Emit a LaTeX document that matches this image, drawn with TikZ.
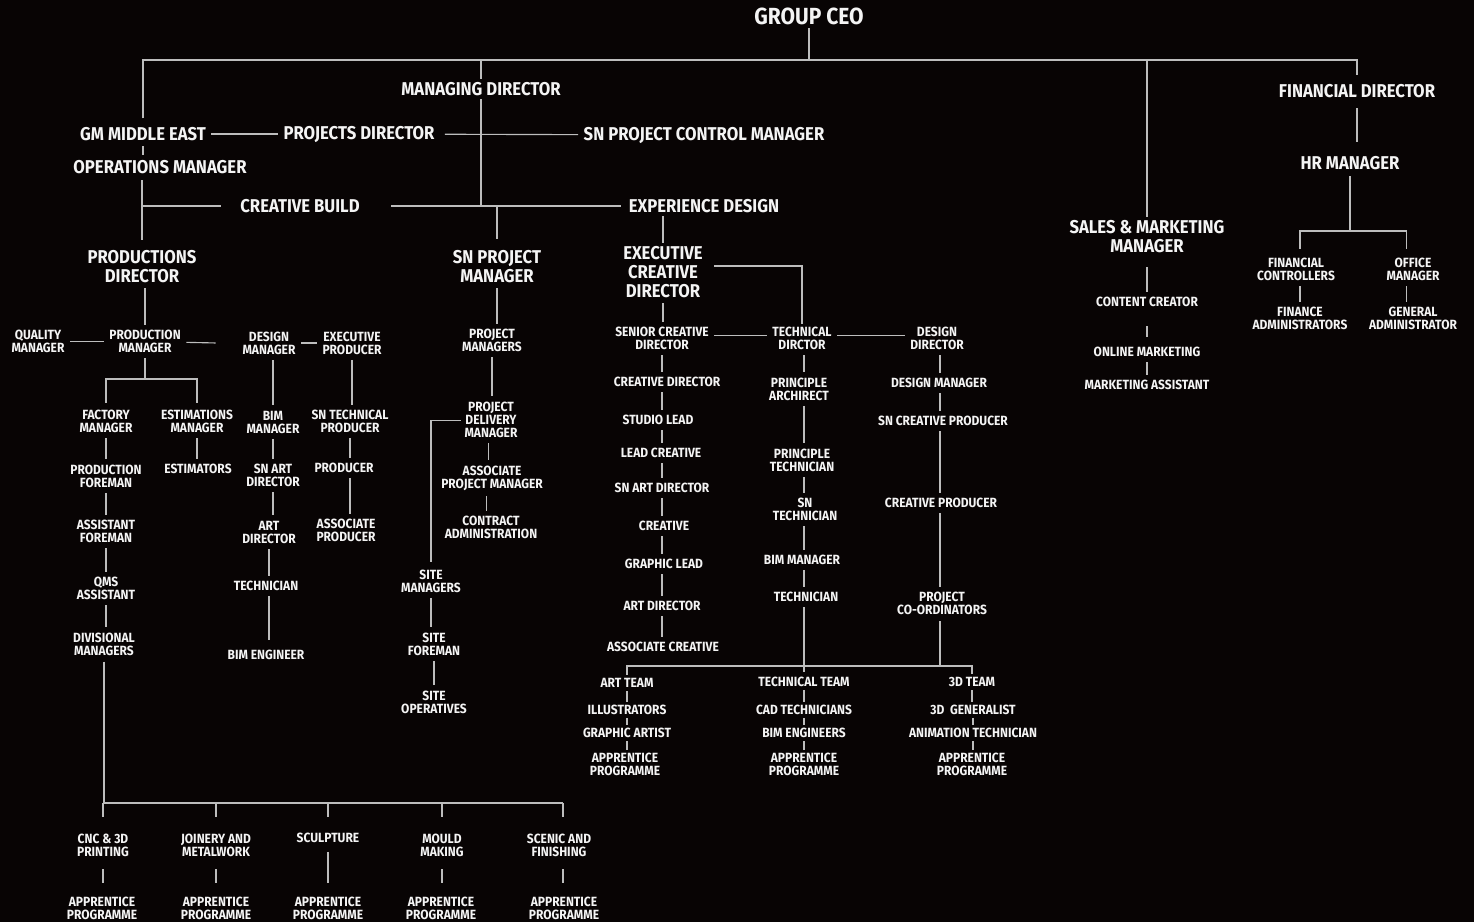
\documentclass[tikz,border=0pt]{standalone}
\usepackage{fontspec}
\setmainfont{Fira Sans}[FakeStretch=0.9]
\usetikzlibrary{backgrounds}
\definecolor{bg}{HTML}{080404}
\definecolor{ln}{HTML}{BDBDBD}
\definecolor{tx}{HTML}{F4F4F4}
\begin{document}
\begin{tikzpicture}[x=0.75pt,y=-0.75pt,
  every node/.style={text=tx, align=center, inner sep=2.5pt},
  big/.style={font=\bfseries\fontsize{17.5}{20}\selectfont},
  med/.style={font=\bfseries\fontsize{13.9}{14.25}\selectfont},
  sm/.style={font=\bfseries\fontsize{10}{9.75}\selectfont},
  wire/.style={draw=ln, line width=0.85pt},
  link/.style={draw=ln, line width=0.85pt, shorten <=1.5pt, shorten >=1.5pt}]
\useasboundingbox (0,0) rectangle (1474,922);
% ---------- top level
\node[big] (ceo) at (809,16) {GROUP CEO};
\node[med] (md) at (481,89) {MANAGING DIRECTOR};
\node[med] (gm) at (143,134) {GM MIDDLE EAST};
\node[med] (pd) at (359,134) {PROJECTS DIRECTOR};
\node[med] (snpcm) at (704,135) {SN PROJECT CONTROL MANAGER};
\node[med] (om) at (160,167) {OPERATIONS MANAGER};
\node[med] (cb) at (300,206) {CREATIVE BUILD};
\node[med] (ed) at (704,206) {EXPERIENCE DESIGN};
\node[med] (prd) at (142,266.5) {PRODUCTIONS\\DIRECTOR};
\node[med] (snpm) at (497,266.5) {SN PROJECT\\MANAGER};
\node[med] (ecd) at (663,272) {EXECUTIVE\\CREATIVE\\DIRECTOR};
\node[med] (fd) at (1357,91) {FINANCIAL DIRECTOR};
\node[med] (hr) at (1350,163) {HR MANAGER};
\node[med] (smm) at (1147,236.5) {SALES \& MARKETING\\MANAGER};
% ---------- creative build
\node[sm] (qm) at (38,341.5) {QUALITY\\MANAGER};
\node[sm] (pm) at (145,341.5) {PRODUCTION\\MANAGER};
\node[sm] (dm) at (269,343) {DESIGN\\MANAGER};
\node[sm] (ep) at (352,343) {EXECUTIVE\\PRODUCER};
\node[sm] (fm) at (106,421.5) {FACTORY\\MANAGER};
\node[sm] (em) at (197,421.5) {ESTIMATIONS\\MANAGER};
\node[sm] (pf) at (106,476) {PRODUCTION\\FOREMAN};
\node[sm] (af) at (106,531.5) {ASSISTANT\\FOREMAN};
\node[sm] (qms) at (106,588.5) {QMS\\ASSISTANT};
\node[sm] (dvm) at (104,644) {DIVISIONAL\\MANAGERS};
\node[sm] (est) at (198,469) {ESTIMATORS};
\node[sm] (bimm) at (273,422) {BIM\\MANAGER};
\node[sm] (snad) at (273,475.5) {SN ART\\DIRECTOR};
\node[sm] (ad) at (269,532) {ART\\DIRECTOR};
\node[sm] (tech) at (266,586) {TECHNICIAN};
\node[sm] (bime) at (266,655) {BIM ENGINEER};
\node[sm] (sntp) at (350,421.5) {SN TECHNICAL\\PRODUCER};
\node[sm] (prod) at (344,468) {PRODUCER};
\node[sm] (ap) at (346,530.5) {ASSOCIATE\\PRODUCER};
% bottom
\node[sm] (cnc) at (103,845) {CNC \& 3D\\PRINTING};
\node[sm] (join) at (216,845) {JOINERY AND\\METALWORK};
\node[sm] (sculp) at (328,838) {SCULPTURE};
\node[sm] (mould) at (442,845) {MOULD\\MAKING};
\node[sm] (scenic) at (559,845) {SCENIC AND\\FINISHING};
\node[sm] (apa) at (102,908) {APPRENTICE\\PROGRAMME};
\node[sm] (apb) at (216,908) {APPRENTICE\\PROGRAMME};
\node[sm] (apc) at (328,908) {APPRENTICE\\PROGRAMME};
\node[sm] (apd) at (441,908) {APPRENTICE\\PROGRAMME};
\node[sm] (ape) at (564,908) {APPRENTICE\\PROGRAMME};
% ---------- projects
\node[sm] (pms) at (492,340.5) {PROJECT\\MANAGERS};
\node[sm] (pdm) at (491,419.5) {PROJECT\\DELIVERY\\MANAGER};
\node[sm] (apm) at (492,478) {ASSOCIATE\\PROJECT MANAGER};
\node[sm] (ca) at (491,527.5) {CONTRACT\\ADMINISTRATION};
\node[sm] (sm) at (431,581) {SITE\\MANAGERS};
\node[sm] (sf) at (434,644) {SITE\\FOREMAN};
\node[sm] (so) at (434,702) {SITE\\OPERATIVES};
% ---------- experience design
\node[sm] (scd) at (662,338.5) {SENIOR CREATIVE\\DIRECTOR};
\node[sm] (td) at (802,338.5) {TECHNICAL\\DIRCTOR};
\node[sm] (dd) at (937,338.5) {DESIGN\\DIRECTOR};
\node[sm] (cd) at (667,382) {CREATIVE DIRECTOR};
\node[sm] (sl) at (658,420) {STUDIO LEAD};
\node[sm] (lc) at (661,453) {LEAD CREATIVE};
\node[sm] (snadb) at (662,488) {SN ART DIRECTOR};
\node[sm] (cr) at (664,526) {CREATIVE};
\node[sm] (gl) at (664,564) {GRAPHIC LEAD};
\node[sm] (adb) at (662,606) {ART DIRECTOR};
\node[sm] (ac) at (663,647) {ASSOCIATE CREATIVE};
\node[sm] (pa) at (799,389) {PRINCIPLE\\ARCHIRECT};
\node[sm] (pt) at (802,460) {PRINCIPLE\\TECHNICIAN};
\node[sm] (snt) at (805,509.5) {SN\\TECHNICIAN};
\node[sm] (bimmb) at (802,560) {BIM MANAGER};
\node[sm] (techb) at (806,597) {TECHNICIAN};
\node[sm] (dmb) at (939,383) {DESIGN MANAGER};
\node[sm] (sncp) at (943,421) {SN CREATIVE PRODUCER};
\node[sm] (cp) at (941,503) {CREATIVE PRODUCER};
\node[sm] (pco) at (942,603.5) {PROJECT\\CO-ORDINATORS};
% teams
\node[sm] (at) at (627,683) {ART TEAM};
\node[sm] (ill) at (627,710) {ILLUSTRATORS};
\node[sm] (ga) at (627,733) {GRAPHIC ARTIST};
\node[sm] (apf) at (625,764.5) {APPRENTICE\\PROGRAMME};
\node[sm] (tt) at (804,682) {TECHNICAL TEAM};
\node[sm] (cad) at (804,710) {CAD TECHNICIANS};
\node[sm] (bimes) at (804,733) {BIM ENGINEERS};
\node[sm] (apg) at (804,764.5) {APPRENTICE\\PROGRAMME};
\node[sm] (tdt) at (972,682) {3D TEAM};
\node[sm] (gen) at (973,710) {3D~~GENERALIST};
\node[sm] (ani) at (973,733) {ANIMATION TECHNICIAN};
\node[sm] (aph) at (972,764.5) {APPRENTICE\\PROGRAMME};
% ---------- right side
\node[sm] (cc) at (1147,302) {CONTENT CREATOR};
\node[sm] (onm) at (1147,352) {ONLINE MARKETING};
\node[sm] (ma) at (1147,385) {MARKETING ASSISTANT};
\node[sm] (fc) at (1296,269.5) {FINANCIAL\\CONTROLLERS};
\node[sm] (fa) at (1300,318.5) {FINANCE\\ADMINISTRATORS};
\node[sm] (ofm) at (1413,269.5) {OFFICE\\MANAGER};
\node[sm] (gad) at (1413,318.5) {GENERAL\\ADMINISTRATOR};

% ---------- junction coordinates
\coordinate (tb) at (809,60);
\coordinate (pmb) at (147,379);
\coordinate (bb) at (103,803);
\coordinate (tbar) at (626,666);
\coordinate (hrb) at (1350,231);
\coordinate (scx) at (662,0);
\coordinate (tdx) at (804,0);
\coordinate (ddx) at (940,0);

\begin{pgfonlayer}{background}
\fill[bg] (0,0) rectangle (1474,922);
% top
\draw[wire] (ceo.south) -- (ceo.south |- tb);
\draw[wire, shorten <=4pt, shorten >=4pt] (gm.north) -- (gm.north |- tb) -- (fd.north |- tb) -- (fd.north);
\draw[wire] (md.north) -- (md.north |- tb);
\draw[wire] (smm.north) -- (smm.north |- tb);
\draw[link] (gm) -- (pd);
\draw[link, shorten <=5pt] (pd) -- (snpcm);
\draw[link] (gm.south) -- (gm.south |- om.north);
\draw[wire, shorten <=2pt, shorten >=5pt] (prd.north |- om.south) -- (prd.north);
\draw[wire] (prd.north |- cb) -- ([xshift=-12pt]cb.west);
\draw[wire] ([xshift=21pt]cb.east) -- ([xshift=-3pt]ed.west);
\draw[wire] (md.south) -- (md.south |- cb);
\draw[wire] (snpm.north |- cb) -- ([yshift=6pt]snpm.north);
\draw[wire] (ecd.north |- ed.south) -- (ecd.north);
\draw[wire] ([yshift=4.5pt,xshift=6pt]ecd.east) -| (td.north);
\draw[link] (ecd.south) -- (ecd.south |- scd.north);
% creative build
\draw[link] (pm.north |- prd.south) -- (pm.north);
\draw[link] (qm) -- (pm);
\draw[link] (pm) -- ([xshift=-16pt]dm.west);
\draw[link] (dm) -- (ep);
\draw[wire, shorten <=1.5pt] (pm.south) -- (pm.south |- pmb);
\draw[wire, shorten <=3pt, shorten >=3pt] (fm.north) -- (fm.north |- pmb) -- (em.north |- pmb) -- (em.north);
\draw[link] (fm.south) -- (fm.south |- pf.north);
\draw[link] (pf.south) -- (pf.south |- af.north);
\draw[link] (af.south) -- (af.south |- qms.north);
\draw[link] (qms.south) -- (qms.south |- dvm.north);
\draw[link] (em.south) -- (em.south |- est.north);
\draw[link] (bimm.north |- dm.south) -- (bimm.north);
\draw[link] (bimm.south) -- (bimm.south |- snad.north);
\draw[link] (snad.south) -- (snad.south |- ad.north);
\draw[link] (ad.south) -- (ad.south |- tech.north);
\draw[link, shorten >=5pt] (ad.south |- tech.south) -- (ad.south |- bime.north);
\draw[link] (ep.south) -- (ep.south |- sntp.north);
\draw[link] (sntp.south) -- (sntp.south |- prod.north);
\draw[link] (sntp.south |- prod.south) -- (sntp.south |- ap.north);
% bottom branch
\draw[wire, shorten <=2pt] (dvm.south) -- (dvm.south |- bb) -- ([xshift=3pt]scenic.north |- bb);
\draw[wire, shorten >=9.5pt] (cnc.north |- bb) -- (cnc.north);
\draw[wire, shorten >=9.5pt] (join.north |- bb) -- (join.north);
\draw[wire, shorten >=9.5pt] (sculp.north |- bb) -- (sculp.north);
\draw[wire, shorten >=9.5pt] (mould.north |- bb) -- (mould.north);
\draw[wire, shorten >=9.5pt] ([xshift=3pt]scenic.north |- bb) -- ([xshift=3pt]scenic.north);
\draw[wire, shorten <=7pt, shorten >=7.5pt] (cnc.south) -- (cnc.south |- apa.north);
\draw[wire, shorten <=7pt, shorten >=7.5pt] (join.south) -- (join.south |- apb.north);
\draw[wire, shorten <=4pt, shorten >=7.5pt] (sculp.south) -- (sculp.south |- apc.north);
\draw[wire, shorten <=7pt, shorten >=7.5pt] (mould.south) -- (mould.south |- apd.north);
\draw[wire, shorten <=7pt, shorten >=7.5pt] ([xshift=3pt]scenic.south) -- ([xshift=3pt]scenic.south |- ape.north);
% projects
\draw[link] (snpm.south) -- (snpm.south |- pms.north);
\draw[link] (pms.south) -- (pms.south |- pdm.north);
\draw[link] ([xshift=-2pt]pdm.south) -- ([xshift=-2pt]pdm.south |- apm.north);
\draw[link] ([xshift=-4pt]apm.south) -- ([xshift=-4pt]apm.south |- ca.north);
\draw[wire, shorten >=3pt] ([yshift=-1pt]pdm.west) -| (sm.north);
\draw[link] (sm.south) -- (sm.south |- sf.north);
\draw[link] (sf.south |- sf.south) -- (sf.south |- so.north);
% experience design
\draw[link] ([yshift=2.5pt]scd.east) -- ([yshift=2.5pt]td.west);
\draw[link] ([yshift=2.5pt]td.east) -- ([yshift=2.5pt]dd.west);
\draw[link] (scx |- scd.south) -- (scx |- cd.north);
\draw[link] (scx |- cd.south) -- (scx |- sl.north);
\draw[link] (scx |- sl.south) -- (scx |- lc.north);
\draw[link] (scx |- lc.south) -- (scx |- snadb.north);
\draw[link] (scx |- snadb.south) -- (scx |- cr.north);
\draw[link] (scx |- cr.south) -- (scx |- gl.north);
\draw[link] (scx |- gl.south) -- (scx |- adb.north);
\draw[link] (scx |- adb.south) -- (scx |- ac.north);
\draw[link] (tdx |- td.south) -- (tdx |- pa.north);
\draw[link] (tdx |- pa.south) -- (tdx |- pt.north);
\draw[link] (tdx |- pt.south) -- (tdx |- snt.north);
\draw[link] (tdx |- snt.south) -- (tdx |- bimmb.north);
\draw[link] (tdx |- bimmb.south) -- (tdx |- techb.north);
\draw[link] (tdx |- techb.south) -- (tdx |- tt.north);
\draw[link] (ddx |- dd.south) -- (ddx |- dmb.north);
\draw[link] (ddx |- dmb.south) -- (ddx |- sncp.north);
\draw[link] (ddx |- sncp.south) -- (ddx |- cp.north);
\draw[link] (ddx |- cp.south) -- (ddx |- pco.north);
\draw[wire, shorten <=2pt] (ddx |- pco.south) -- (ddx |- tbar);
\draw[wire] (at.north) -- (at.north |- tbar) -- (tdt.north |- tbar) -- (tdt.north);
% teams
\draw[wire] (at.south) -- (at.south |- ill.north);
\draw[wire] (ill.south) -- (ill.south |- ga.north);
\draw[wire] (ga.south) -- (ga.south |- apf.north);
\draw[wire] (tt.south) -- (tt.south |- cad.north);
\draw[wire] (cad.south) -- (cad.south |- bimes.north);
\draw[wire] (bimes.south) -- (bimes.south |- apg.north);
\draw[wire] (tdt.south) -- (tdt.south |- gen.north);
\draw[wire] (gen.south) -- (gen.south |- ani.north);
\draw[wire] (ani.south) -- (ani.south |- aph.north);
% right side
\draw[link, shorten <=8pt] (smm.south) -- (smm.south |- cc.north);
\draw[link, shorten <=12pt, shorten >=5pt] (cc.south) -- (cc.south |- onm.north);
\draw[link] (onm.south) -- (onm.south |- ma.north);
\draw[link, shorten <=5pt, shorten >=8pt] (fd.south) -- (fd.south |- hr.north);
\draw[wire, shorten <=2pt] (hr.south) -- (hrb);
\draw[wire, shorten <=4.5pt, shorten >=4.5pt] ([xshift=3pt]fc.north) -- ([xshift=3pt]fc.north |- hrb) -- ([xshift=-5pt]ofm.north |- hrb) -- ([xshift=-5pt]ofm.north);
\draw[link] ([xshift=3pt]fc.south) -- ([xshift=3pt]fc.south |- fa.north);
\draw[link] ([xshift=-5pt]ofm.south) -- ([xshift=-5pt]ofm.south |- gad.north);
\end{pgfonlayer}
\end{tikzpicture}
\end{document}
